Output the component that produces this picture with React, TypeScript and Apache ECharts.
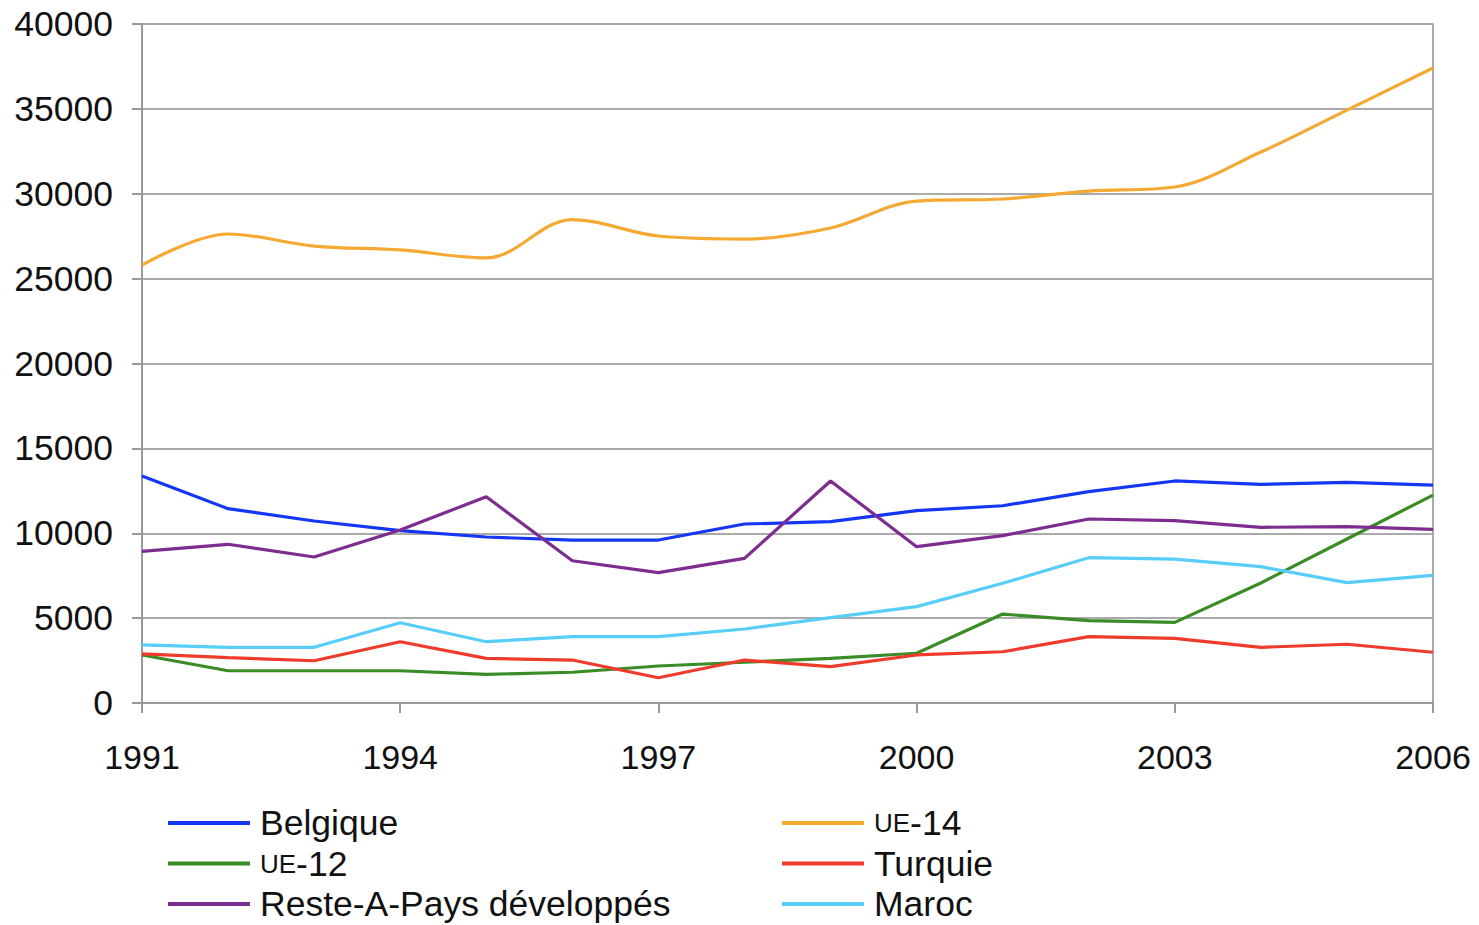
import React, { useEffect, useRef } from "react";
import * as echarts from "echarts";

const years = ["1991","1992","1993","1994","1995","1996","1997","1998","1999","2000","2001","2002","2003","2004","2005","2006"];
const belgique = [13370, 11450, 10720, 10150, 9780, 9600, 9600, 10545, 10680, 11330, 11620, 12450, 13080, 12880, 13000, 12840];
const ue14 = [25800, 27630, 26920, 26690, 26220, 28480, 27510, 27330, 27980, 29570, 29690, 30160, 30400, 32460, 34930, 37410];
const ue12 = [2830, 1900, 1900, 1900, 1690, 1810, 2180, 2400, 2630, 2930, 5240, 4850, 4750, 7070, 9660, 12250];
const turquie = [2890, 2670, 2490, 3610, 2630, 2530, 1490, 2530, 2140, 2830, 3020, 3910, 3810, 3280, 3460, 2990];
const reste = [8935, 9350, 8600, 10190, 12150, 8380, 7680, 8520, 13080, 9210, 9860, 10840, 10740, 10350, 10390, 10230];
const maroc = [3420, 3280, 3280, 4730, 3610, 3910, 3910, 4360, 5030, 5680, 7050, 8560, 8480, 8030, 7090, 7520];

const FONT = "'Liberation Sans', Arial, Helvetica, sans-serif";

export default function App() {
  const ref = useRef<HTMLDivElement>(null);
  useEffect(() => {
    if (!ref.current) return;
    const chart = echarts.init(ref.current, undefined, { renderer: "svg" });
    const line = (name: string, data: number[], color: string, smooth: number | boolean = false) => ({
      name,
      type: "line",
      data,
      smooth,
      showSymbol: false,
      symbol: "none",
      lineStyle: { color, width: 3.2 },
      itemStyle: { color },
    });
    const legendCommon = {
      orient: "vertical",
      top: 805,
      padding: 0,
      height: 118,
      icon: "rect",
      itemWidth: 82,
      itemHeight: 4,
      itemGap: 4.5,
      textStyle: {
        fontFamily: FONT,
        fontSize: 35.5,
        lineHeight: 36,
        color: "#111",
        padding: [0, 0, 0, 5],
        rich: { s: { fontSize: 26, fontFamily: FONT, color: "#111" } },
      },
      formatter: (n: string) => (n.startsWith("UE") ? "{s|UE}" + n.slice(2) : n),
    };
    chart.setOption({
      animation: false,
      backgroundColor: "#fff",
      grid: {
        left: 142,
        right: 46,
        top: 24,
        bottom: 222,
      },
      legend: [
        { ...legendCommon, left: 168, data: ["Belgique", "UE-12", "Reste-A-Pays développés"] },
        { ...legendCommon, left: 782, data: ["UE-14", "Turquie", "Maroc"] },
      ],
      xAxis: {
        type: "category",
        data: years,
        boundaryGap: false,
        axisLine: { show: true, lineStyle: { color: "#999", width: 2 } },
        axisTick: { show: true, interval: 2, length: 10, lineStyle: { color: "#999", width: 2 } },
        axisLabel: { interval: 2, margin: 37, fontFamily: FONT, fontSize: 34, color: "#111", showMaxLabel: true },
        splitLine: { show: false },
      },
      yAxis: [
        {
          type: "value",
          min: 0,
          max: 40000,
          interval: 5000,
          axisLine: { show: true, lineStyle: { color: "#999", width: 2 } },
          axisTick: { show: true, length: 10, lineStyle: { color: "#999", width: 2 } },
          axisLabel: { margin: 29, fontFamily: FONT, fontSize: 35.5, color: "#111", formatter: (v: number) => String(v) },
          splitLine: { show: true, lineStyle: { color: "#aaa", width: 2 } },
        },
        {
          type: "value",
          position: "right",
          min: 0,
          max: 40000,
          interval: 5000,
          axisLine: { show: true, lineStyle: { color: "#aaa", width: 2 } },
          axisTick: { show: false },
          axisLabel: { show: false },
          splitLine: { show: false },
        },
      ],
      series: [
        line("Belgique", belgique, "#1436f5"),
        line("UE-14", ue14, "#f4a933", 0.35),
        line("UE-12", ue12, "#3a8c27"),
        line("Turquie", turquie, "#ee3b2b"),
        line("Reste-A-Pays développés", reste, "#7d2c90"),
        line("Maroc", maroc, "#57cdf7"),
      ],
    });
    return () => chart.dispose();
  }, []);
  return (
    <div
      ref={ref}
      style={{ position: "fixed", left: 0, top: 0, width: 1479, height: 925, background: "#fff" }}
    />
  );
}
